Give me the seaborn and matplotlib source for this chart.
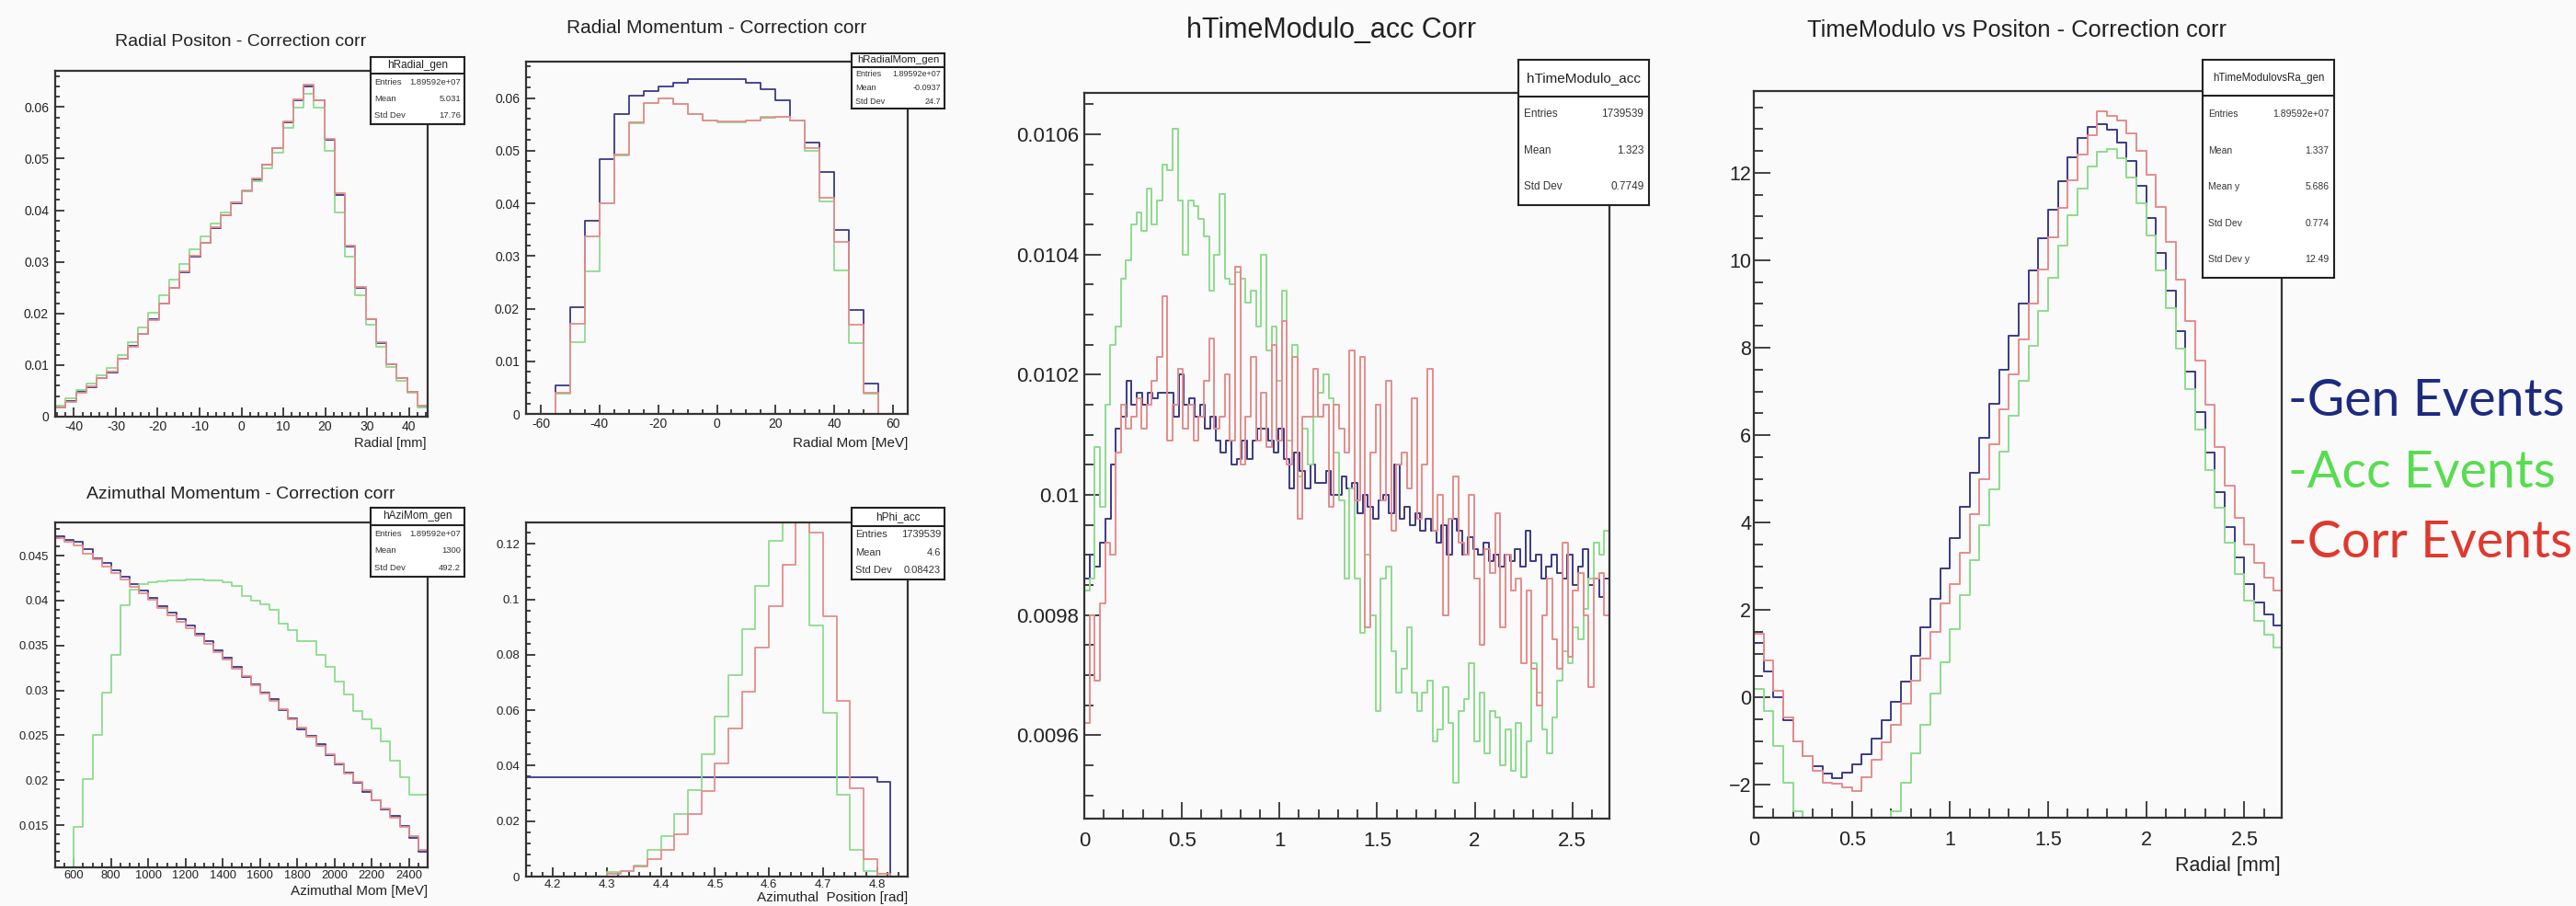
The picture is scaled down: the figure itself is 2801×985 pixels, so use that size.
import numpy as np
import pandas as pd
import matplotlib
matplotlib.use("Agg")
import matplotlib.pyplot as plt
from matplotlib.ticker import AutoMinorLocator
import seaborn as sns

# ------------------------------------------------------------------ data
series = ["Gen", "Acc", "Corr"]
legend_labels = ["-Gen Events", "-Acc Events", "-Corr Events"]

# Panel 1 : Radial Positon
p1_title = "Radial Positon - Correction corr"
p1_xlabel = "Radial [mm]"
p1_range = (-44.5, 44.5)
p1_gen = [0.0018, 0.0030, 0.0048, 0.0057, 0.0074, 0.0086, 0.0113, 0.0137, 0.0160, 0.0188,
          0.0220, 0.0250, 0.0280, 0.0310, 0.0336, 0.0366, 0.0390, 0.0414, 0.0437, 0.0460,
          0.0488, 0.0520, 0.0570, 0.0613, 0.0640, 0.0613, 0.0536, 0.0430, 0.0330, 0.0250,
          0.0188, 0.0143, 0.0101, 0.0074, 0.0048, 0.0020]
p1_acc = [0.0022, 0.0035, 0.0052, 0.0065, 0.0080, 0.0095, 0.0120, 0.0145, 0.0172, 0.0202,
          0.0235, 0.0265, 0.0295, 0.0325, 0.0350, 0.0375, 0.0395, 0.0416, 0.0436, 0.0456,
          0.0482, 0.0512, 0.0560, 0.0598, 0.0625, 0.0598, 0.0515, 0.0396, 0.0310, 0.0235,
          0.0178, 0.0135, 0.0096, 0.0070, 0.0046, 0.0018]
p1_corr = [0.0017, 0.0029, 0.0047, 0.0058, 0.0075, 0.0087, 0.0113, 0.0136, 0.0160, 0.0187,
           0.0220, 0.0250, 0.0281, 0.0311, 0.0337, 0.0367, 0.0390, 0.0415, 0.0438, 0.0461,
           0.0488, 0.0521, 0.0572, 0.0615, 0.0643, 0.0613, 0.0538, 0.0433, 0.0332, 0.0251,
           0.0189, 0.0144, 0.0102, 0.0075, 0.0049, 0.0021]
p1_xticks = [-40, -30, -20, -10, 0, 10, 20, 30, 40]
p1_yticks = [0, 0.01, 0.02, 0.03, 0.04, 0.05, 0.06]
p1_yticklabels = ["0", "0.01", "0.02", "0.03", "0.04", "0.05", "0.06"]
p1_stats = ("hRadial_gen", [("Entries", "1.89592e+07"), ("Mean", "5.031"), ("Std Dev", "17.76")])

# Panel 2 : Radial Momentum
p2_title = "Radial Momentum - Correction corr"
p2_xlabel = "Radial Mom [MeV]"
p2_range = (-65, 65)
p2_gen = [0, 0, 0.0055, 0.0203, 0.0366, 0.0484, 0.0570, 0.0605, 0.0613, 0.0622,
          0.0628, 0.0635, 0.0636, 0.0636, 0.0635, 0.0629, 0.0616, 0.0596, 0.0558, 0.0515,
          0.0460, 0.0350, 0.0198, 0.0058, 0, 0]
p2_acc = [0, 0, 0.0038, 0.0137, 0.0270, 0.0400, 0.0491, 0.0552, 0.0590, 0.0599,
          0.0588, 0.0570, 0.0558, 0.0553, 0.0554, 0.0558, 0.0564, 0.0564, 0.0558, 0.0500,
          0.0404, 0.0273, 0.0135, 0.0038, 0, 0]
p2_corr = [0, 0, 0.0040, 0.0171, 0.0337, 0.0400, 0.0493, 0.0553, 0.0590, 0.0600,
           0.0588, 0.0570, 0.0557, 0.0555, 0.0555, 0.0558, 0.0563, 0.0564, 0.0558, 0.0505,
           0.0410, 0.0326, 0.0169, 0.0040, 0, 0]
p2_xticks = [-60, -40, -20, 0, 20, 40, 60]
p2_yticks = [0, 0.01, 0.02, 0.03, 0.04, 0.05, 0.06]
p2_yticklabels = ["0", "0.01", "0.02", "0.03", "0.04", "0.05", "0.06"]
p2_stats = ("hRadialMom_gen", [("Entries", "1.89592e+07"), ("Mean", "-0.0937"), ("Std Dev", "24.7")])

# Panel 3 : Azimuthal Momentum
p3_title = "Azimuthal Momentum - Correction corr"
p3_xlabel = "Azimuthal Mom [MeV]"
p3_range = (500, 2500)
p3_gen = [0.0472, 0.0468, 0.0465, 0.0457, 0.0447, 0.0442, 0.0434, 0.0427, 0.0418, 0.0411,
          0.0403, 0.0394, 0.0387, 0.0379, 0.0372, 0.0363, 0.0355, 0.0345, 0.0336, 0.0326,
          0.0315, 0.0307, 0.0298, 0.0290, 0.0278, 0.0269, 0.0257, 0.0249, 0.0240, 0.0228,
          0.0218, 0.0208, 0.0197, 0.0187, 0.0178, 0.0168, 0.0160, 0.0149, 0.0136, 0.0120]
p3_acc = [0, 0, 0.0148, 0.0201, 0.0250, 0.0298, 0.0340, 0.0395, 0.0412, 0.0418,
          0.0420, 0.0421, 0.0422, 0.0423, 0.0424, 0.0424, 0.0423, 0.0422, 0.0420, 0.0416,
          0.0405, 0.0400, 0.0396, 0.0390, 0.0374, 0.0367, 0.0355, 0.0355, 0.0340, 0.0326,
          0.0310, 0.0296, 0.0277, 0.0268, 0.0258, 0.0243, 0.0222, 0.0203, 0.0184, 0.0184]
p3_corr = [0.0470, 0.0466, 0.0461, 0.0452, 0.0446, 0.0438, 0.0431, 0.0424, 0.0415, 0.0408,
           0.0401, 0.0392, 0.0384, 0.0376, 0.0369, 0.0361, 0.0352, 0.0343, 0.0334, 0.0324,
           0.0316, 0.0306, 0.0297, 0.0288, 0.0279, 0.0268, 0.0259, 0.0248, 0.0238, 0.0229,
           0.0219, 0.0207, 0.0198, 0.0189, 0.0178, 0.0169, 0.0158, 0.0148, 0.0138, 0.0122]
p3_xticks = [600, 800, 1000, 1200, 1400, 1600, 1800, 2000, 2200, 2400]
p3_yticks = [0.015, 0.02, 0.025, 0.03, 0.035, 0.04, 0.045]
p3_yticklabels = ["0.015", "0.02", "0.025", "0.03", "0.035", "0.04", "0.045"]
p3_stats = ("hAziMom_gen", [("Entries", "1.89592e+07"), ("Mean", "1300"), ("Std Dev", "492.2")])

# Panel 4 : Azimuthal Position
p4_xlabel = "Azimuthal  Position [rad]"
p4_range = (4.15, 4.85)
p4_gen = [0.0357] * 26 + [0.0343, 0]
p4_acc = [0, 0, 0, 0, 0, 0, 0.0015, 0.0020, 0.0040, 0.0097,
          0.0147, 0.0224, 0.0313, 0.0440, 0.0578, 0.0727, 0.0893, 0.1047, 0.1210, 0.1400,
          0.1400, 0.0904, 0.0589, 0.0296, 0.0097, 0.0020, 0, 0]
p4_corr = [0, 0, 0, 0, 0, 0, 0.0010, 0.0020, 0.0036, 0.0064,
           0.0097, 0.0152, 0.0224, 0.0307, 0.0407, 0.0534, 0.0666, 0.0826, 0.0976, 0.1125,
           0.1400, 0.1240, 0.0940, 0.0633, 0.0318, 0.0064, 0.0010, 0]
p4_xticks = [4.2, 4.3, 4.4, 4.5, 4.6, 4.7, 4.8]
p4_yticks = [0, 0.02, 0.04, 0.06, 0.08, 0.1, 0.12]
p4_yticklabels = ["0", "0.02", "0.04", "0.06", "0.08", "0.1", "0.12"]
p4_stats = ("hPhi_acc", [("Entries", "1739539"), ("Mean", "4.6"), ("Std Dev", "0.08423")])

# Panel 5 : hTimeModulo_acc Corr
p5_title = "hTimeModulo_acc Corr"
p5_range = (0, 2.69)
p5_gen = [0.00986, 0.00990, 0.00988, 0.00992, 0.00996, 0.01005, 0.01011, 0.01013, 0.01019, 0.01015,
          0.01017, 0.01015, 0.01017, 0.01016, 0.01017, 0.01017, 0.01017, 0.01013, 0.01020, 0.01015,
          0.01016, 0.01013, 0.01015, 0.01011, 0.01013, 0.01009, 0.01007, 0.01009, 0.01005, 0.01006,
          0.01009, 0.01006, 0.01009, 0.01011, 0.01011, 0.01009, 0.01007, 0.01011, 0.01006, 0.01001,
          0.01007, 0.01004, 0.01001, 0.01005, 0.01002, 0.01002, 0.01004, 0.01000, 0.01000, 0.01003,
          0.01001, 0.01002, 0.00997, 0.01000, 0.00998, 0.00996, 0.00999, 0.01000, 0.00997, 0.01005,
          0.00996, 0.00998, 0.00995, 0.00997, 0.00994, 0.00996, 0.00994, 0.00992, 0.00995, 0.00990,
          0.00996, 0.00994, 0.00990, 0.00993, 0.00991, 0.00990, 0.00992, 0.00989, 0.00990, 0.00988,
          0.00990, 0.00989, 0.00991, 0.00988, 0.00994, 0.00989, 0.00990, 0.00986, 0.00988, 0.00990,
          0.00987, 0.00986, 0.00990, 0.00985, 0.00988, 0.00991, 0.00985, 0.00986, 0.00983, 0.00986]
p5_acc = [0.00984, 0.00986, 0.01008, 0.00998, 0.01015, 0.01025, 0.01028, 0.01036, 0.01039, 0.01045,
          0.01047, 0.01044, 0.01051, 0.01045, 0.01049, 0.01055, 0.01054, 0.01061, 0.01049, 0.01040,
          0.01049, 0.01048, 0.01046, 0.01043, 0.01034, 0.01040, 0.01050, 0.01036, 0.01035, 0.01037,
          0.01036, 0.01032, 0.01034, 0.01028, 0.01040, 0.01024, 0.01028, 0.01019, 0.01034, 0.01009,
          0.01025, 0.01003, 0.01011, 0.01005, 0.01013, 0.01017, 0.01020, 0.01016, 0.01007, 0.00999,
          0.00986, 0.01001, 0.00986, 0.00977, 0.00990, 0.00980, 0.00964, 0.00986, 0.00988, 0.00974,
          0.00967, 0.00971, 0.00978, 0.00967, 0.00964, 0.00967, 0.00969, 0.00959, 0.00961, 0.00968,
          0.00962, 0.00952, 0.00964, 0.00966, 0.00972, 0.00959, 0.00967, 0.00957, 0.00964, 0.00963,
          0.00955, 0.00961, 0.00954, 0.00962, 0.00953, 0.00959, 0.00972, 0.00967, 0.00961, 0.00957,
          0.00963, 0.00969, 0.00974, 0.00972, 0.00978, 0.00976, 0.00981, 0.00986, 0.00992, 0.00990,
          0.00994]
p5_corr = [0.00962, 0.00980, 0.00969, 0.00982, 0.00992, 0.00990, 0.01007, 0.01015, 0.01011, 0.01013,
           0.01016, 0.01011, 0.01015, 0.01019, 0.01023, 0.01033, 0.01009, 0.01015, 0.01021, 0.01011,
           0.01015, 0.01009, 0.01013, 0.01019, 0.01026, 0.01011, 0.01013, 0.01020, 0.01009, 0.01038,
           0.01005, 0.01013, 0.01023, 0.01009, 0.01017, 0.01008, 0.01025, 0.01009, 0.01029, 0.01005,
           0.01023, 0.00996, 0.01013, 0.01013, 0.01021, 0.01013, 0.01015, 0.00998, 0.01015, 0.01011,
           0.01007, 0.01024, 0.00999, 0.01023, 0.00978, 0.01007, 0.01015, 0.00999, 0.01019, 0.00994,
           0.01005, 0.01007, 0.01001, 0.01016, 0.00996, 0.01005, 0.01021, 0.00994, 0.01000, 0.00980,
           0.00996, 0.01003, 0.00992, 0.00990, 0.01000, 0.00986, 0.00975, 0.00991, 0.00987, 0.00997,
           0.00978, 0.00990, 0.00984, 0.00986, 0.00972, 0.00984, 0.00971, 0.00965, 0.00980, 0.00986,
           0.00976, 0.00971, 0.00992, 0.00973, 0.00984, 0.00987, 0.00980, 0.00968, 0.00986, 0.00987,
           0.00980]
p5_xticks = [0, 0.5, 1, 1.5, 2, 2.5]
p5_xticklabels = ["0", "0.5", "1", "1.5", "2", "2.5"]
p5_yticks = [0.0096, 0.0098, 0.0100, 0.0102, 0.0104, 0.0106]
p5_yticklabels = ["0.0096", "0.0098", "0.01", "0.0102", "0.0104", "0.0106"]
p5_stats = ("hTimeModulo_acc", [("Entries", "1739539"), ("Mean", "1.323"), ("Std Dev", "0.7749")])

# Panel 6 : TimeModulo vs Positon
p6_title = "TimeModulo vs Positon - Correction corr"
p6_xlabel = "Radial [mm]"
p6_range = (0, 2.7)
p6_gen = [1.25, 0.60, 0.00, -0.52, -1.00, -1.35, -1.58, -1.75, -1.85, -1.72,
          -1.52, -1.30, -0.95, -0.52, -0.10, 0.36, 0.96, 1.60, 2.25, 2.95,
          3.64, 4.37, 5.13, 5.93, 6.72, 7.50, 8.28, 9.00, 9.77, 10.50,
          11.15, 11.80, 12.35, 12.80, 13.05, 13.12, 12.98, 12.70, 12.27, 11.70,
          10.97, 10.17, 9.30, 8.38, 7.45, 6.52, 5.60, 4.70, 3.90, 3.20,
          2.60, 2.18, 1.90, 1.65]
p6_acc = [0.20, -0.30, -1.10, -1.95, -2.60, -3.20, -3.60, -3.80, -3.90, -3.90,
          -3.80, -3.60, -3.30, -3.00, -2.60, -1.95, -1.28, -0.62, 0.08, 0.80,
          1.56, 2.35, 3.15, 3.94, 4.77, 5.63, 6.45, 7.25, 8.05, 8.84,
          9.60, 10.33, 11.02, 11.65, 12.15, 12.48, 12.55, 12.33, 11.90, 11.30,
          10.57, 9.77, 8.90, 7.98, 7.05, 6.12, 5.20, 4.34, 3.55, 2.82,
          2.22, 1.76, 1.43, 1.15]
p6_corr = [1.45, 0.85, 0.15, -0.45, -1.00, -1.35, -1.68, -1.95, -1.98, -2.05,
           -2.15, -1.82, -1.42, -1.02, -0.62, -0.15, 0.38, 0.90, 1.50, 2.15,
           2.60, 3.30, 4.20, 5.00, 5.80, 6.60, 7.38, 8.20, 9.00, 9.78,
           10.52, 11.20, 11.82, 12.42, 12.85, 13.40, 13.30, 13.20, 12.90, 12.50,
           11.95, 11.22, 10.42, 9.55, 8.62, 7.70, 6.70, 5.72, 4.85, 4.10,
           3.50, 3.08, 2.75, 2.45]
p6_xticks = [0, 0.5, 1, 1.5, 2, 2.5]
p6_xticklabels = ["0", "0.5", "1", "1.5", "2", "2.5"]
p6_yticks = [-2, 0, 2, 4, 6, 8, 10, 12]
p6_stats = ("hTimeModulovsRa_gen", [("Entries", "1.89592e+07"), ("Mean", "1.337"),
                                    ("Mean y", "5.686"), ("Std Dev", "0.774"), ("Std Dev y", "12.49")])

# ------------------------------------------------------------------ style
sns.set_theme(style="ticks")
plt.rcParams["font.family"] = ["Liberation Sans", "DejaVu Sans"]

W, H = 2801, 985
BG = "#fafafa"
LINE_COLORS = {"Gen": "#3a3a86", "Acc": "#8edc8e", "Corr": "#e68c8c"}
LEGEND_COLORS = {"Gen": "#1c2a80", "Acc": "#58dc50", "Corr": "#e0382e"}
FRAME = "#333333"
TXT = "#222222"

fig = plt.figure(figsize=(W / 100, H / 100), dpi=100, facecolor=BG)


def px_axes(x0, x1, y0, y1, **kw):
    return fig.add_axes([x0 / W, 1 - y1 / H, (x1 - x0) / W, (y1 - y0) / H], **kw)


def draw_hist(ax, rng, data, lw):
    for name, vals in zip(series, data):
        vals = np.asarray(vals, dtype=float)
        nb = len(vals)
        width = (rng[1] - rng[0]) / nb
        centers = rng[0] + width * (np.arange(nb) + 0.5)
        df = pd.DataFrame({"x": centers, "w": vals})
        sns.histplot(data=df, x="x", weights="w", bins=nb, binrange=(rng[0], rng[1]),
                     element="step", fill=False, color=LINE_COLORS[name], linewidth=lw, ax=ax)
    ax.set_xlabel("")
    ax.set_ylabel("")


def style_axes(ax, xlim, ylim, xticks, yticks, xtl=None, ytl=None, fs=10,
               xminor=5, yminor=5, major_len=7, minor_len=3.5, xpad=3, ypad=4):
    ax.set_facecolor(BG)
    ax.set_xlim(*xlim)
    ax.set_ylim(*ylim)
    ax.set_xticks(xticks)
    ax.set_yticks(yticks)
    if xtl is not None:
        ax.set_xticklabels(xtl)
    else:
        ax.set_xticklabels([("%g" % t) for t in xticks])
    if ytl is not None:
        ax.set_yticklabels(ytl)
    ax.xaxis.set_minor_locator(AutoMinorLocator(xminor))
    ax.yaxis.set_minor_locator(AutoMinorLocator(yminor))
    ax.tick_params(which="both", direction="in", top=False, right=False,
                   colors=FRAME, labelcolor=TXT, labelsize=fs, width=1.3)
    ax.tick_params(axis="x", which="both", pad=xpad)
    ax.tick_params(axis="y", which="both", pad=ypad)
    ax.tick_params(which="major", length=major_len)
    ax.tick_params(which="minor", length=minor_len)
    for s in ax.spines.values():
        s.set_visible(True)
        s.set_color(FRAME)
        s.set_linewidth(1.6)


def stats_box(x0, x1, y0, y1, content, fs, rfs):
    title, rows = content
    bax = px_axes(x0, x1, y0, y1, zorder=10)
    bax.set_facecolor("white")
    bax.set_xticks([])
    bax.set_yticks([])
    for s in bax.spines.values():
        s.set_color("#222222")
        s.set_linewidth(1.5)
    n = len(rows) + 1
    bax.axhline(1 - 1.0 / n, color="#222222", lw=1.5)
    bax.text(0.5, 1 - 0.5 / n, title, ha="center", va="center", fontsize=fs, color=TXT)
    for i, (k, v) in enumerate(rows):
        yc = 1 - (i + 1.5) / n
        bax.text(0.04, yc, k, ha="left", va="center", fontsize=rfs, color="#333333")
        bax.text(0.96, yc, v, ha="right", va="center", fontsize=rfs, color="#333333")


# ---------------------------------------------------------------- panel 1
ax1 = px_axes(60, 465, 77, 453)
draw_hist(ax1, p1_range, [p1_gen, p1_acc, p1_corr], 1.3)
style_axes(ax1, p1_range, (0, 0.067), p1_xticks, p1_yticks, ytl=p1_yticklabels, fs=10,
           xpad=3, ypad=5)
fig.text(262 / W, 1 - 45 / H, p1_title, ha="center", va="center", fontsize=14, color=TXT)
fig.text(463 / W, 1 - 482 / H, p1_xlabel, ha="right", va="center", fontsize=10.5, color=TXT)
stats_box(403, 505, 62, 135, p1_stats, 8.5, 6.8)

# ---------------------------------------------------------------- panel 2
ax2 = px_axes(572, 987, 67, 450)
draw_hist(ax2, p2_range, [p2_gen, p2_acc, p2_corr], 1.3)
style_axes(ax2, p2_range, (0, 0.0669), p2_xticks, p2_yticks, ytl=p2_yticklabels, fs=10,
           xminor=4, xpad=3, ypad=5)
fig.text(779 / W, 1 - 30 / H, p2_title, ha="center", va="center", fontsize=15, color=TXT)
fig.text(987 / W, 1 - 482 / H, p2_xlabel, ha="right", va="center", fontsize=11, color=TXT)
stats_box(926, 1027, 58, 118, p2_stats, 8.2, 6.5)

# ---------------------------------------------------------------- panel 3
ax3 = px_axes(60, 465, 568, 943)
draw_hist(ax3, p3_range, [p3_gen, p3_acc, p3_corr], 1.3)
style_axes(ax3, p3_range, (0.0103, 0.0487), p3_xticks, p3_yticks, ytl=p3_yticklabels, fs=9.3,
           xminor=4, xpad=2, ypad=5)
fig.text(262 / W, 1 - 537 / H, p3_title, ha="center", va="center", fontsize=14, color=TXT)
fig.text(465 / W, 1 - 969 / H, p3_xlabel, ha="right", va="center", fontsize=11, color=TXT)
stats_box(403, 505, 552, 627, p3_stats, 8.5, 6.8)

# ---------------------------------------------------------------- panel 4
ax4 = px_axes(572, 987, 568, 953)
draw_hist(ax4, p4_range, [p4_gen, p4_acc, p4_corr], 1.3)
style_axes(ax4, (4.15, 4.857), (0, 0.1277), p4_xticks, p4_yticks, ytl=p4_yticklabels, fs=9.5,
           xpad=2, ypad=5)
fig.text(987 / W, 1 - 976 / H, p4_xlabel, ha="right", va="center", fontsize=11, color=TXT)
stats_box(926, 1027, 552, 630, p4_stats, 8.5, 8)

# ---------------------------------------------------------------- panel 5
ax5 = px_axes(1179, 1750, 101, 890)
draw_hist(ax5, p5_range, [p5_gen, p5_acc, p5_corr], 1.4)
style_axes(ax5, p5_range, (0.009461, 0.010669), p5_xticks, p5_yticks, xtl=p5_xticklabels,
           ytl=p5_yticklabels, fs=16, xminor=5, yminor=4, major_len=13, minor_len=7,
           xpad=10, ypad=4)
fig.text(1448 / W, 1 - 33 / H, p5_title, ha="center", va="center", fontsize=22, color=TXT)
stats_box(1651, 1793, 65, 223, p5_stats, 11, 8.5)

# ---------------------------------------------------------------- panel 6
ax6 = px_axes(1907, 2481, 99, 889)
draw_hist(ax6, p6_range, [p6_gen, p6_acc, p6_corr], 1.4)
style_axes(ax6, (0, 2.69), (-2.75, 13.87), p6_xticks, p6_yticks, xtl=p6_xticklabels,
           fs=15.5, xminor=5, yminor=4, major_len=13, minor_len=7, xpad=10, ypad=2)
fig.text(2193 / W, 1 - 33 / H, p6_title, ha="center", va="center", fontsize=18.4, color=TXT)
fig.text(2480 / W, 1 - 941 / H, p6_xlabel, ha="right", va="center", fontsize=15.5, color=TXT)
stats_box(2395, 2538, 65, 302, p6_stats, 8.3, 7.5)

# ---------------------------------------------------------------- legend text
for i, (name, lab) in enumerate(zip(series, legend_labels)):
    fig.text(2488 / W, 1 - (437 + 77 * i) / H, lab, ha="left", va="center",
             fontsize=40, color=LEGEND_COLORS[name], family=["Lato", "DejaVu Sans"])

fig.savefig("out.png", dpi=100, facecolor=BG)
